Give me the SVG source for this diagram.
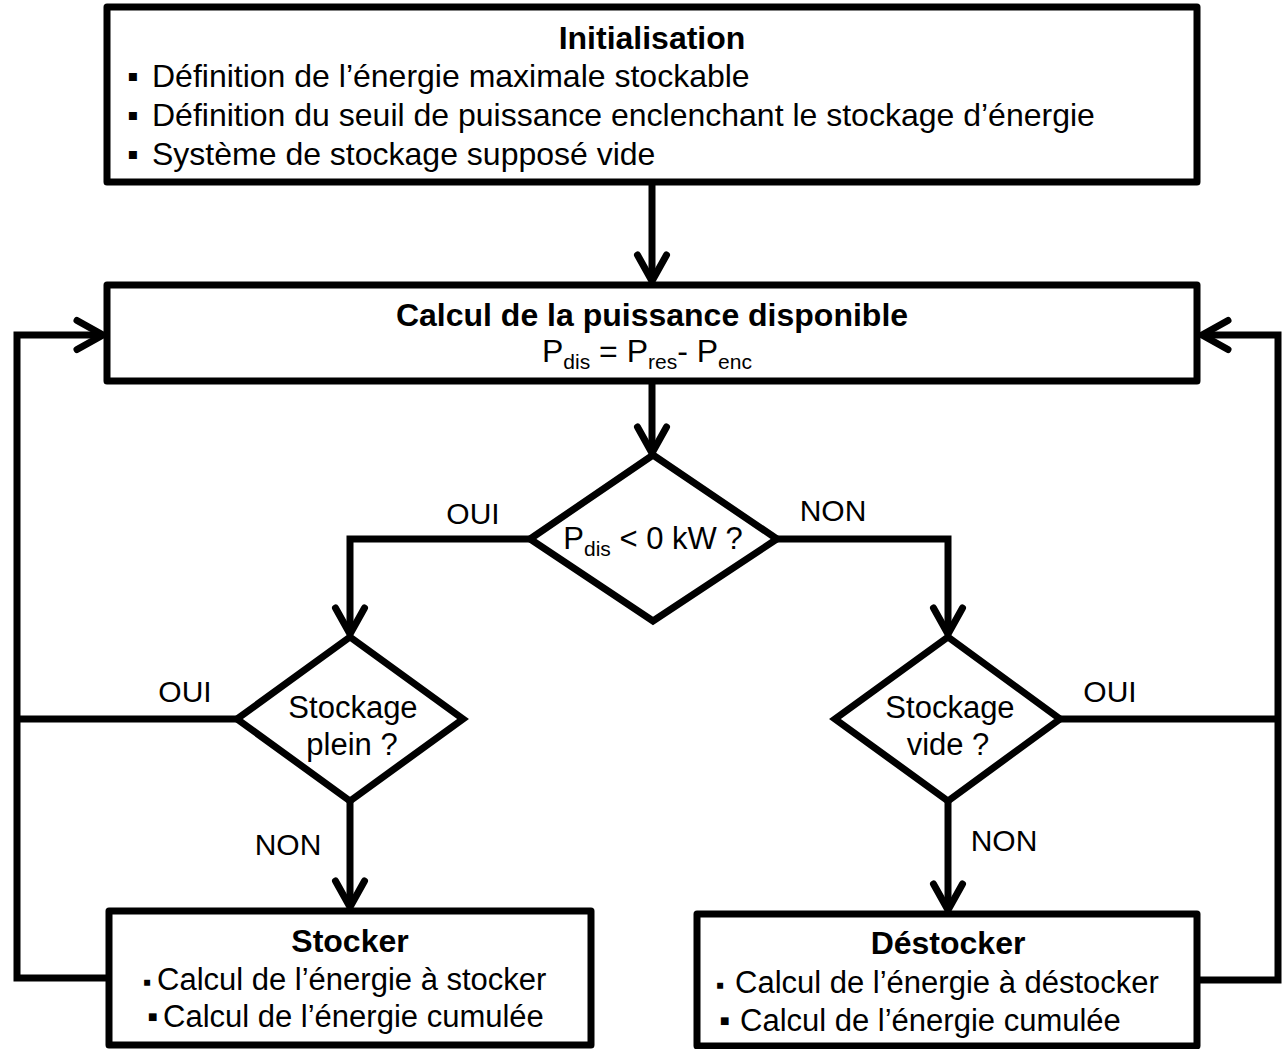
<svg xmlns="http://www.w3.org/2000/svg" width="1282" height="1049" viewBox="0 0 1282 1049">
<defs>
<style>
.box{fill:#fff;stroke:#000;stroke-width:7;stroke-linejoin:round}
.dia{fill:#fff;stroke:#000;stroke-width:7;stroke-linejoin:miter}
.con{fill:none;stroke:#000;stroke-width:7;stroke-linejoin:miter}
text{font-family:"Liberation Sans",Arial,sans-serif;fill:#000}
.t{font-size:32px}
.tb{font-size:32px;font-weight:bold}
.bt{font-size:31px}
.lbl{font-size:30px}
.dt{font-size:31px}
.sub{font-size:21px}
</style>
<marker id="arr" markerUnits="userSpaceOnUse" markerWidth="60" markerHeight="60" viewBox="-30 -30 60 60" refX="0" refY="0" orient="auto" overflow="visible">
<path d="M-26,-14.5 L0,0 L-26,14.5" fill="none" stroke="#000" stroke-width="7" stroke-linecap="round" stroke-linejoin="round"/>
</marker>
</defs>
<rect width="1282" height="1049" fill="#fff"/>

<g id="connectors">
<path class="con" d="M652,182 V281" marker-end="url(#arr)"/>
<path class="con" d="M652,381 V453" marker-end="url(#arr)"/>
<path class="con" d="M530,539 H350 V634" marker-end="url(#arr)"/>
<path class="con" d="M777,539 H948 V634" marker-end="url(#arr)"/>
<path class="con" d="M350,801 V907" marker-end="url(#arr)"/>
<path class="con" d="M948,801 V910" marker-end="url(#arr)"/>
<path class="con" d="M109,978 H17 V335 H103" marker-end="url(#arr)"/>
<path class="con" d="M237,719 H17"/>
<path class="con" d="M1197,980 H1278 V335 H1202" marker-end="url(#arr)"/>
<path class="con" d="M1060,719 H1278"/>
<text class="lbl" x="473" y="524" text-anchor="middle">OUI</text>
<text class="lbl" x="833" y="521" text-anchor="middle">NON</text>
<text class="lbl" x="185" y="702" text-anchor="middle">OUI</text>
<text class="lbl" x="288" y="855" text-anchor="middle">NON</text>
<text class="lbl" x="1110" y="702" text-anchor="middle">OUI</text>
<text class="lbl" x="1004" y="851" text-anchor="middle">NON</text>
</g>

<g id="init">
<rect class="box" x="107" y="7" width="1090" height="175"/>
<text class="tb" x="652" y="49" text-anchor="middle">Initialisation</text>
<text class="t" y="87"><tspan x="127">▪</tspan><tspan x="152">Définition de l’énergie maximale stockable</tspan></text>
<text class="t" y="126"><tspan x="127">▪</tspan><tspan x="152">Définition du seuil de puissance enclenchant le stockage d’énergie</tspan></text>
<text class="t" y="165"><tspan x="127">▪</tspan><tspan x="152">Système de stockage supposé vide</tspan></text>
</g>

<g id="calcul">
<rect class="box" x="107" y="285" width="1090" height="96"/>
<text class="tb" x="652" y="326" text-anchor="middle">Calcul de la puissance disponible</text>
<text class="t" x="647" y="362" text-anchor="middle">P<tspan class="sub" dy="7">dis</tspan><tspan dy="-7"> = P</tspan><tspan class="sub" dy="7">res</tspan><tspan dy="-7">- P</tspan><tspan class="sub" dy="7">enc</tspan></text>
</g>

<g id="test-pdis">
<polygon class="dia" points="653,455 777,539 653,621 530,539"/>
<text class="dt" x="653" y="549" text-anchor="middle">P<tspan class="sub" dy="7">dis</tspan><tspan dy="-7"> &lt; 0 kW ?</tspan></text>
</g>

<g id="test-plein">
<polygon class="dia" points="350,637 463,719 350,801 237,719"/>
<text class="dt" x="353" y="718" text-anchor="middle">Stockage</text>
<text class="dt" x="352" y="755" text-anchor="middle">plein ?</text>
</g>

<g id="test-vide">
<polygon class="dia" points="948,637 1060,719 948,801 835,719"/>
<text class="dt" x="950" y="718" text-anchor="middle">Stockage</text>
<text class="dt" x="948" y="755" text-anchor="middle">vide ?</text>
</g>

<g id="stocker">
<rect class="box" x="109" y="911" width="482" height="134"/>
<text class="tb" x="350" y="952" text-anchor="middle">Stocker</text>
<text class="bt" y="990"><tspan x="143" font-size="24">▪</tspan><tspan x="157">Calcul de l’énergie à stocker</tspan></text>
<text class="bt" y="1027"><tspan x="147">▪</tspan><tspan x="163">Calcul de l’énergie cumulée</tspan></text>
</g>

<g id="destocker">
<rect class="box" x="697" y="914" width="500" height="132"/>
<text class="tb" x="948" y="954" text-anchor="middle">Déstocker</text>
<text class="bt" y="993"><tspan x="716" font-size="24">▪</tspan><tspan x="735">Calcul de l’énergie à déstocker</tspan></text>
<text class="bt" y="1031"><tspan x="719">▪</tspan><tspan x="740">Calcul de l’énergie cumulée</tspan></text>
</g>
</svg>
